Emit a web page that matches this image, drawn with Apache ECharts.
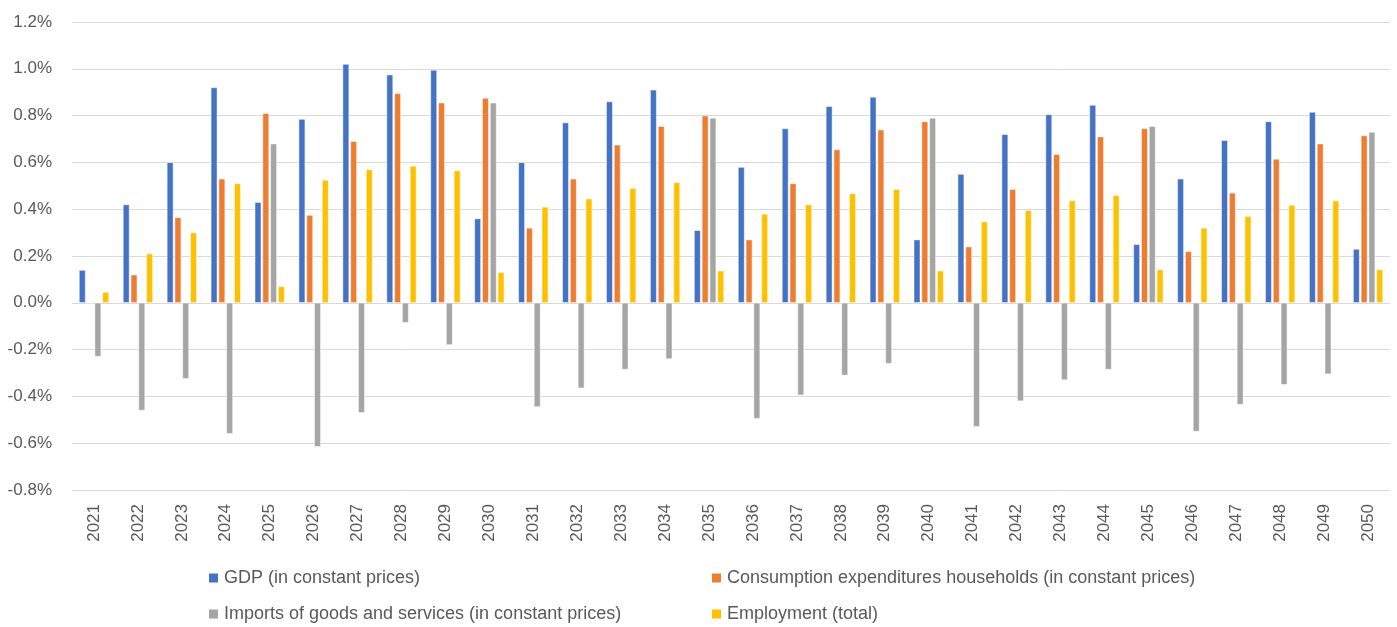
<!DOCTYPE html>
<html>
<head>
<meta charset="utf-8">
<script src="https://cdn.jsdelivr.net/npm/echarts@6/dist/echarts.min.js"></script>
<style>
  html, body { margin: 0; padding: 0; background: #fff; }
  #chart { width: 1397px; height: 627px; }
</style>
</head>
<body>
<div id="chart"></div>
<script>
const years = ['2021', '2022', '2023', '2024', '2025', '2026', '2027', '2028', '2029', '2030',
  '2031', '2032', '2033', '2034', '2035', '2036', '2037', '2038', '2039', '2040',
  '2041', '2042', '2043', '2044', '2045', '2046', '2047', '2048', '2049', '2050']

const seriesNames = [
  'GDP (in constant prices)',
  'Consumption expenditures households (in constant prices)',
  'Imports of goods and services (in constant prices)',
  'Employment (total)',
]

// values in %
const gdp = [0.14, 0.42, 0.60, 0.92, 0.43, 0.785, 1.02, 0.975, 0.995, 0.36,
  0.60, 0.77, 0.86, 0.91, 0.31, 0.58, 0.745, 0.84, 0.88, 0.27,
  0.55, 0.72, 0.805, 0.845, 0.25, 0.53, 0.695, 0.775, 0.815, 0.23]
const consumption = [0, 0.12, 0.365, 0.53, 0.81, 0.375, 0.69, 0.895, 0.855, 0.875,
  0.32, 0.53, 0.675, 0.755, 0.80, 0.27, 0.51, 0.655, 0.74, 0.775,
  0.24, 0.485, 0.635, 0.71, 0.745, 0.22, 0.47, 0.615, 0.68, 0.715]
const imports = [-0.23, -0.46, -0.325, -0.56, 0.68, -0.615, -0.47, -0.085, -0.18, 0.855,
  -0.445, -0.365, -0.285, -0.24, 0.79, -0.495, -0.395, -0.31, -0.26, 0.79,
  -0.53, -0.42, -0.33, -0.285, 0.755, -0.55, -0.435, -0.35, -0.305, 0.73]
const employment = [0.046, 0.21, 0.30, 0.51, 0.07, 0.525, 0.57, 0.585, 0.565, 0.13,
  0.41, 0.445, 0.49, 0.515, 0.137, 0.38, 0.42, 0.467, 0.485, 0.137,
  0.347, 0.395, 0.437, 0.46, 0.142, 0.32, 0.37, 0.418, 0.437, 0.142]

const yTicks = { min: -0.8, max: 1.2, interval: 0.2 }

const colors = ['#4472C4', '#ED7D31', '#A5A5A5', '#FFC000']
const textColor = '#595959'
const fontFamily = 'Liberation Sans, Arial, sans-serif'

const chart = echarts.init(document.getElementById('chart'))

const legendPos = [
  { left: 207, top: 569 },
  { left: 710, top: 569 },
  { left: 207, top: 605 },
  { left: 710, top: 605 },
]

chart.setOption({
  animation: false,
  color: colors,
  textStyle: { fontFamily },
  grid: { left: 72, right: 7, top: 22, bottom: 137, containLabel: false },
  legend: seriesNames.map((name, i) => ({
    data: [name],
    left: legendPos[i].left,
    top: legendPos[i].top,
    padding: 0,
    icon: 'rect',
    itemWidth: 11,
    itemHeight: 11,
    itemGap: 4,
    textStyle: { color: textColor, fontSize: 18, fontFamily },
  })),
  xAxis: {
    type: 'category',
    data: years,
    axisLine: { show: false, onZero: false },
    axisTick: { show: false },
    axisLabel: { rotate: 90, color: textColor, fontSize: 17, margin: 14 },
  },
  yAxis: {
    type: 'value',
    min: yTicks.min,
    max: yTicks.max,
    interval: yTicks.interval,
    axisLine: { show: false },
    axisTick: { show: false },
    axisLabel: {
      color: textColor,
      fontSize: 17,
      margin: 20,
      formatter: v => v.toFixed(1) + '%',
    },
    splitLine: { lineStyle: { color: '#d9d9d9', width: 1 } },
  },
  series: [gdp, consumption, imports, employment].map((data, i) => ({
    name: seriesNames[i],
    type: 'bar',
    data,
    barWidth: 6.5,
    barGap: '20%',
    itemStyle: { borderColor: '#fff', borderWidth: 0.5 },
  })),
})
</script>
</body>
</html>
